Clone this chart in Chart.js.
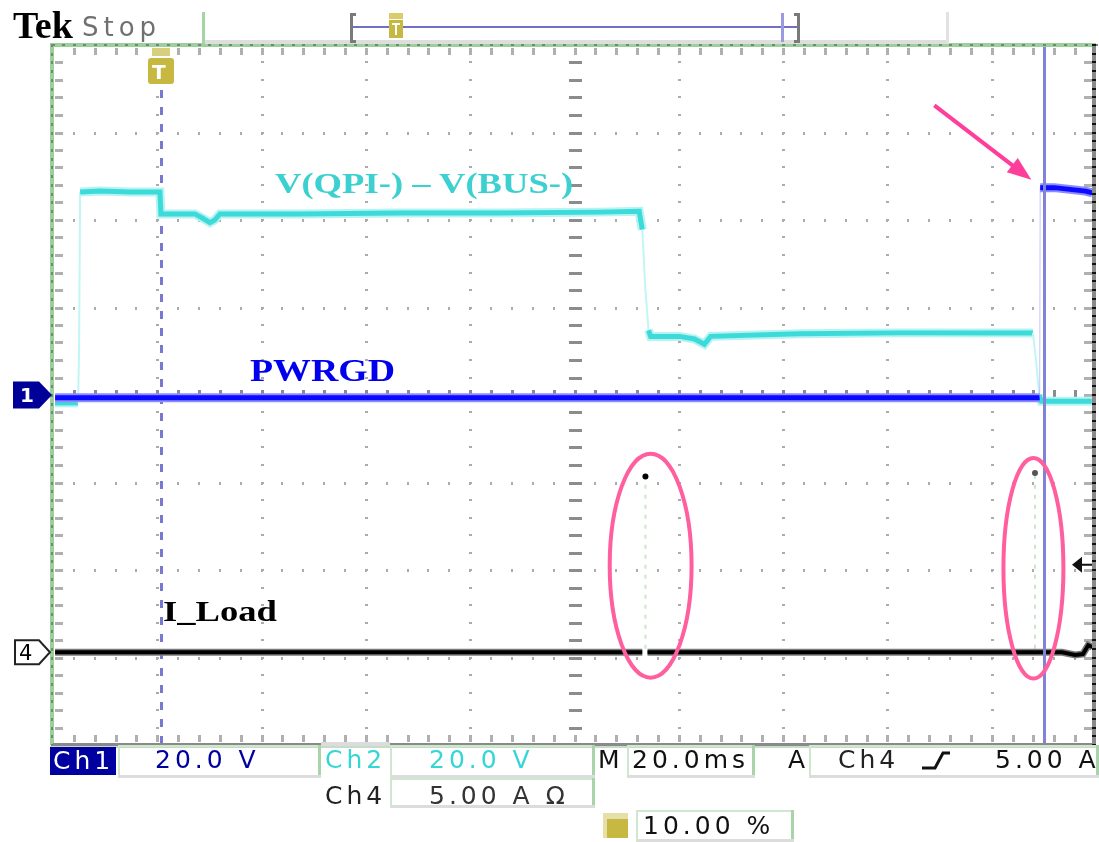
<!DOCTYPE html>
<html>
<head>
<meta charset="utf-8">
<script src="https://cdn.jsdelivr.net/npm/chart.js@4.4.1/dist/chart.umd.min.js"></script>
<style>
  body { margin: 0; background: #fff; }
  #scope { position: relative; width: 1099px; height: 842px; overflow: hidden; font-family: "DejaVu Sans", sans-serif; }
  #scope canvas { position: absolute; left: 0; top: 0; }
  .t { position: absolute; white-space: nowrap; line-height: 1; }
  .rd { font-size: 25px; letter-spacing: 4px; }
  .lbl { font-family: "Liberation Serif", serif; font-weight: bold; font-size: 30px; transform-origin: 0 0; transform: scaleX(1.22); }
</style>
</head>
<body>
<div id="scope">
  <canvas id="scopeChart" width="1099" height="842" style="width:1099px;height:842px"></canvas>

  <!-- header -->
  <div class="t" style="left:13px;top:6px;font-family:'Liberation Serif',serif;font-weight:bold;font-size:38px;color:#000">Tek</div>
  <div class="t" style="left:82px;top:14px;font-size:26px;letter-spacing:5px;color:#707070">Stop</div>

  <!-- trace labels -->
  <div class="t lbl" style="left:275px;top:168px;color:#3cd0d0">V(QPI-) – V(BUS-)</div>
  <div class="t lbl" style="left:250px;top:355px;color:#0000ee;font-size:31px">PWRGD</div>
  <div class="t lbl" style="left:163px;top:596px;color:#000">I_Load</div>

  <!-- channel markers -->
  <div class="t" style="left:20px;top:385px;font-size:20px;font-weight:bold;color:#fff">1</div>
  <div class="t" style="left:19px;top:643px;font-size:21px;color:#000">4</div>
  <div class="t" style="left:152px;top:62px;font-size:20px;font-weight:bold;color:#fff">T</div>

  <!-- readout -->
  <div class="t rd" style="left:53px;top:748px;color:#fff">Ch1</div>
  <div class="t rd" style="left:155px;top:747px;color:#0000a0">20.0 V</div>
  <div class="t rd" style="left:325px;top:747px;color:#36d6d6">Ch2</div>
  <div class="t rd" style="left:429px;top:747px;color:#36d6d6">20.0 V</div>
  <div class="t rd" style="left:325px;top:783px;color:#222">Ch4</div>
  <div class="t rd" style="left:429px;top:783px;color:#333">5.00 A Ω</div>
  <div class="t rd" style="left:598px;top:747px;color:#111">M</div>
  <div class="t rd" style="left:632px;top:747px;color:#111">20.0ms</div>
  <div class="t rd" style="left:788px;top:747px;color:#111">A</div>
  <div class="t rd" style="left:838px;top:747px;color:#222">Ch4</div>
  <div class="t rd" style="left:995px;top:747px;color:#111">5.00 A</div>
  <div class="t rd" style="left:643px;top:813px;color:#111">10.00 %</div>
</div>

<script>
// time axis in ms (20 ms/div, trigger at 10 %), vertical axis in divisions
const timeMin = -20, timeMax = 180;
const triggerTime = 0.7;
const cursorTime = 170.1;

// Ch2: V(QPI-) - V(BUS-)
const ch2Time = [-19.6, -15.2, -15.0, -14.8, -11.0, -5.2, 0.5, 0.7, 7.2, 8.7, 10.1, 11.0, 12.0, 27.3, 46.5, 65.6, 84.8, 92.4, 93.0, 93.6, 94.2, 94.6, 100.1, 103.0, 104.9, 106.1, 123.1, 142.3, 167.9, 168.5, 169.1, 169.5, 179.2];
const ch2Div = [-0.09, -0.09, 0.51, 2.32, 2.33, 2.32, 2.32, 2.07, 2.07, 2.02, 1.97, 2.0, 2.07, 2.07, 2.08, 2.08, 2.09, 2.10, 1.89, 1.2, 0.74, 0.67, 0.67, 0.64, 0.58, 0.67, 0.70, 0.71, 0.71, 0.40, 0.0, -0.07, -0.07];

// Ch1: PWRGD
const pwrgdTime = [-19.6, 169.2, 169.3, 172.0, 175.0, 178.0, 179.3];
const pwrgdDiv = [-0.03, -0.03, 2.37, 2.37, 2.35, 2.33, 2.31];

// Ch4: I_Load
const loadTime = [-19.6, 93.0, 93.5, 94.0, 173.5, 176.0, 177.5, 178.5, 179.3];
const loadDiv = [-2.94, -2.94, null, -2.94, -2.94, -2.97, -2.96, -2.86, -2.88];

// faint current spikes
const spikeTime = [93.6, 93.6, 130, 168.3, 168.3];
const spikeDiv = [-2.9, -0.95, null, -2.9, -0.91];
const tipTime = [93.6, 168.3];
const tipDiv = [-0.93, -0.89];

// ground / trigger levels
const ch1Ground = 0;
const ch4Ground = -2.94;
const trigLevel = -1.94;

// pink highlight ellipses: centre time, centre div, half width ms, half height div
const ringTime = [94.6, 168.0];
const ringDiv = [-1.95, -1.98];
const ringHalfW = [7.85, 5.75];
const ringHalfH = [1.28, 1.26];
// pink arrow, tail -> head
const arrowTime = [149.0, 167.6];
const arrowDiv = [3.31, 2.46];

const pts = (xs, ys) => xs.map((x, i) => ({ x: x, y: ys[i] }));

// steep edges are drawn thin and faint like on the scope screen
const edge = (normal, faint, wNormal, wFaint) => ({
  borderColor: c => Math.abs(c.p1.parsed.y - c.p0.parsed.y) > 0.3 ? faint : normal,
  borderWidth: c => Math.abs(c.p1.parsed.y - c.p0.parsed.y) > 0.3 ? wFaint : wNormal
});

const scopeGrid = {
  id: 'scopeGrid',
  beforeDatasetsDraw(chart) {
    const { ctx, chartArea: a, scales: { x, y } } = chart;
    ctx.save();
    ctx.fillStyle = '#ababab';
    for (let i = 1; i < 10; i++) {
      const gx = Math.round(x.getPixelForValue(timeMin + i * 20));
      for (let j = 1; j < 40; j++) {
        const gy = Math.round(y.getPixelForValue(-4 + j * 0.2));
        ctx.fillRect(gx - 1, gy - 1, 3, 2);
      }
    }
    for (let j = 1; j < 8; j++) {
      const gy = Math.round(y.getPixelForValue(-4 + j));
      for (let i = 1; i < 50; i++) {
        const gx = Math.round(x.getPixelForValue(timeMin + i * 4));
        ctx.fillRect(gx - 1, gy - 1, 2, 3);
      }
    }
    // centre cross ticks
    ctx.fillStyle = '#8c8c8c';
    const cx = Math.round(x.getPixelForValue(80)), cy = Math.round(y.getPixelForValue(0));
    for (let j = 1; j < 40; j++) {
      const gy = Math.round(y.getPixelForValue(-4 + j * 0.2));
      ctx.fillRect(cx - 6, gy - 1, 13, 3);
    }
    for (let i = 1; i < 50; i++) {
      const gx = Math.round(x.getPixelForValue(timeMin + i * 4));
      ctx.fillRect(gx - 1, cy - 5, 3, 11);
    }
    // edge ticks
    ctx.fillStyle = '#b0b0b0';
    for (let j = 1; j < 40; j++) {
      const gy = Math.round(y.getPixelForValue(-4 + j * 0.2));
      ctx.fillRect(a.left + 2, gy - 1, 8, 3);
      ctx.fillRect(a.right - 12, gy - 1, 8, 3);
    }
    for (let i = 1; i < 50; i++) {
      const gx = Math.round(x.getPixelForValue(timeMin + i * 4));
      ctx.fillRect(gx - 1, a.top + 3, 3, 7);
      ctx.fillRect(gx - 1, a.bottom - 10, 3, 7);
    }
    // trigger position line
    const tx = Math.round(x.getPixelForValue(triggerTime)) + 0.5;
    ctx.strokeStyle = '#7878d0';
    ctx.lineWidth = 3;
    ctx.setLineDash([8, 9]);
    ctx.beginPath();
    ctx.moveTo(tx, 90);
    ctx.lineTo(tx, a.bottom);
    ctx.stroke();
    ctx.restore();
  }
};

function tag(ctx, x0, yc, w, h, tip) {
  ctx.beginPath();
  ctx.moveTo(x0, yc - h / 2);
  ctx.lineTo(x0 + w, yc - h / 2);
  ctx.lineTo(x0 + w + tip, yc);
  ctx.lineTo(x0 + w, yc + h / 2);
  ctx.lineTo(x0, yc + h / 2);
  ctx.closePath();
}

function box(ctx, x0, y0, x1, y1) {
  ctx.fillStyle = '#cfe6cf';
  ctx.fillRect(x0, y0, x1 - x0, 2);
  ctx.fillRect(x0, y0, 2, y1 - y0);
  ctx.fillStyle = '#a9d3a9';
  ctx.fillRect(x1 - 3, y0, 3, y1 - y0);
  ctx.fillStyle = '#dcdcdc';
  ctx.fillRect(x0, y1 - 3, x1 - x0, 3);
}

const scopeDecor = {
  id: 'scopeDecor',
  afterDatasetsDraw(chart) {
    const { ctx, chartArea: a, scales: { x, y } } = chart;
    ctx.save();

    // cursor
    const cx = Math.round(x.getPixelForValue(cursorTime));
    ctx.fillStyle = '#8282d6';
    ctx.fillRect(cx - 1, a.top, 3, a.bottom - a.top);

    // pink rings
    ctx.strokeStyle = '#ff5f9e';
    ctx.lineWidth = 4;
    ringTime.forEach((t, i) => {
      const ex = x.getPixelForValue(t), ey = y.getPixelForValue(ringDiv[i]);
      const rx = x.getPixelForValue(t + ringHalfW[i]) - ex;
      const ry = ey - y.getPixelForValue(ringDiv[i] + ringHalfH[i]);
      ctx.beginPath();
      ctx.ellipse(ex, ey, rx, ry, 0, 0, Math.PI * 2);
      ctx.stroke();
    });

    // pink arrow
    const ax0 = x.getPixelForValue(arrowTime[0]), ay0 = y.getPixelForValue(arrowDiv[0]);
    const ax1 = x.getPixelForValue(arrowTime[1]), ay1 = y.getPixelForValue(arrowDiv[1]);
    const ang = Math.atan2(ay1 - ay0, ax1 - ax0);
    ctx.strokeStyle = '#ff3d9a';
    ctx.fillStyle = '#ff3d9a';
    ctx.lineWidth = 4;
    ctx.beginPath();
    ctx.moveTo(ax0, ay0);
    ctx.lineTo(ax1 - 18 * Math.cos(ang), ay1 - 18 * Math.sin(ang));
    ctx.stroke();
    ctx.beginPath();
    ctx.moveTo(ax1, ay1);
    ctx.lineTo(ax1 - 24 * Math.cos(ang) + 9 * Math.sin(ang), ay1 - 24 * Math.sin(ang) - 9 * Math.cos(ang));
    ctx.lineTo(ax1 - 24 * Math.cos(ang) - 9 * Math.sin(ang), ay1 - 24 * Math.sin(ang) + 9 * Math.cos(ang));
    ctx.closePath();
    ctx.fill();

    // graticule frame
    ctx.fillStyle = '#9ccf9c';
    ctx.fillRect(a.left - 3, a.top - 2, a.right - a.left + 3, 4);
    ctx.fillRect(a.left - 3, a.top - 2, 4, a.bottom - a.top + 2);
    ctx.fillStyle = '#6b8f6b';
    for (let i = 0; i <= 100; i++) {
      const gx = Math.round(x.getPixelForValue(timeMin + i * 2));
      ctx.fillRect(gx - 1, a.top - 1, 3, 2);
    }
    for (let j = 0; j <= 80; j++) {
      const gy = Math.round(y.getPixelForValue(-4 + j * 0.1));
      ctx.fillRect(a.left - 2, gy - 1, 2, 3);
    }
    ctx.fillStyle = '#8a8a8a';
    ctx.fillRect(a.right - 4, a.top, 4, a.bottom - a.top);
    ctx.fillRect(a.left, a.bottom - 2, a.right - a.left, 3);
    ctx.fillStyle = '#111';
    for (let j = 0; j <= 80; j++) {
      const gy = Math.round(y.getPixelForValue(-4 + j * 0.1));
      ctx.fillRect(a.right - 4, gy - 1, 4, 2);
    }
    ctx.fillStyle = '#c6dcc6';
    ctx.fillRect(a.left - 3, a.bottom + 1, a.right - a.left + 3, 2);

    // channel ground markers
    ctx.fillStyle = '#000099';
    tag(ctx, 13, y.getPixelForValue(ch1Ground), 26, 27, 13);
    ctx.fill();
    ctx.fillStyle = '#fff';
    ctx.strokeStyle = '#222';
    ctx.lineWidth = 2;
    tag(ctx, 15, y.getPixelForValue(ch4Ground), 24, 24, 11);
    ctx.fill();
    ctx.stroke();

    // trigger level arrow
    const ly = y.getPixelForValue(trigLevel);
    ctx.fillStyle = '#111';
    ctx.beginPath();
    ctx.moveTo(a.right - 24, ly);
    ctx.lineTo(a.right - 14, ly - 8);
    ctx.lineTo(a.right - 14, ly + 8);
    ctx.closePath();
    ctx.fill();
    ctx.fillRect(a.right - 14, ly - 1, 10, 2);

    // trigger position marker
    const tx = Math.round(x.getPixelForValue(triggerTime));
    ctx.fillStyle = '#d8cf7e';
    ctx.fillRect(tx - 9, 48, 18, 8);
    ctx.fillStyle = '#c6b840';
    ctx.beginPath();
    ctx.roundRect(tx - 13, 58, 26, 26, 3);
    ctx.fill();
    ctx.restore();
  },
  afterDraw(chart) {
    const { ctx } = chart;
    ctx.save();
    // record view bar
    ctx.fillStyle = '#a3d6a3';
    ctx.fillRect(202, 12, 3, 32);
    ctx.fillStyle = '#dedede';
    ctx.fillRect(205, 40, 743, 4);
    ctx.fillStyle = '#e2e2e2';
    ctx.fillRect(946, 12, 3, 32);
    ctx.fillStyle = '#7070c8';
    ctx.fillRect(353, 26, 445, 2);
    ctx.fillStyle = '#9a9ae0';
    ctx.fillRect(781, 13, 3, 29);
    ctx.fillStyle = '#7a7a7a';
    ctx.fillRect(350, 13, 3, 30);
    ctx.fillRect(350, 13, 6, 3);
    ctx.fillRect(350, 40, 6, 3);
    ctx.fillRect(797, 13, 3, 30);
    ctx.fillRect(794, 13, 6, 3);
    ctx.fillRect(794, 40, 6, 3);
    ctx.fillStyle = '#d9cd6a';
    ctx.fillRect(389, 13, 14, 6);
    ctx.fillStyle = '#c6b840';
    ctx.fillRect(389, 20, 14, 18);
    ctx.fillStyle = '#fff';
    ctx.fillRect(392, 23, 8, 2);
    ctx.fillRect(395, 23, 2, 12);

    // readout boxes
    ctx.fillStyle = '#0000a0';
    ctx.fillRect(50, 747, 66, 28);
    box(ctx, 118, 745, 321, 778);
    box(ctx, 390, 745, 595, 778);
    box(ctx, 390, 778, 595, 808);
    box(ctx, 627, 745, 755, 778);
    box(ctx, 809, 745, 1099, 778);
    box(ctx, 636, 810, 794, 842);
    ctx.fillStyle = '#dcdcdc';
    ctx.fillRect(321, 742, 69, 4);

    // rising edge symbol
    ctx.strokeStyle = '#111';
    ctx.lineWidth = 3;
    ctx.beginPath();
    ctx.moveTo(922, 768);
    ctx.lineTo(935, 768);
    ctx.lineTo(943, 753);
    ctx.lineTo(950, 753);
    ctx.stroke();

    // trigger position icon
    ctx.fillStyle = '#e6dfa8';
    ctx.fillRect(603, 813, 25, 25);
    ctx.fillStyle = '#c6b840';
    ctx.fillRect(607, 819, 21, 19);
    ctx.restore();
  }
};

new Chart(document.getElementById('scopeChart'), {
  type: 'line',
  data: {
    datasets: [
      { data: pts(pwrgdTime, pwrgdDiv), order: 1, segment: edge('#0a0aff', 'rgba(140,140,255,0.5)', 5, 1) },
      { data: pts(pwrgdTime, pwrgdDiv), order: 2, segment: edge('#8c8cff', 'rgba(0,0,0,0)', 9, 0) },
      { data: pts(loadTime, loadDiv), order: 1, borderColor: '#000', borderWidth: 4 },
      { data: pts(loadTime, loadDiv), order: 2, borderColor: '#7a7a7a', borderWidth: 7 },
      { data: pts(ch2Time, ch2Div), order: 3, segment: edge('#3ddada', '#c2f5f5', 5, 2) },
      { data: pts(ch2Time, ch2Div), order: 4, segment: edge('#b6f3f3', 'rgba(0,0,0,0)', 9, 0) },
      { data: pts(spikeTime, spikeDiv), order: 5, borderColor: '#c9e6c9', borderWidth: 2, borderDash: [4, 6] },
      { data: pts(tipTime, tipDiv), order: 0, showLine: false, pointRadius: 3, pointBackgroundColor: ['#000', '#555'], pointBorderWidth: 0 }
    ]
  },
  options: {
    responsive: false,
    animation: false,
    devicePixelRatio: 1,
    spanGaps: false,
    layout: { padding: { left: 53, top: 45, right: 2, bottom: 97 } },
    plugins: { legend: { display: false }, tooltip: { enabled: false } },
    elements: { point: { radius: 0, hoverRadius: 0 }, line: { tension: 0, fill: false } },
    scales: {
      x: { type: 'linear', min: timeMin, max: timeMax, display: false },
      y: { type: 'linear', min: -4, max: 4, display: false }
    }
  },
  plugins: [scopeGrid, scopeDecor]
});
</script>
</body>
</html>
